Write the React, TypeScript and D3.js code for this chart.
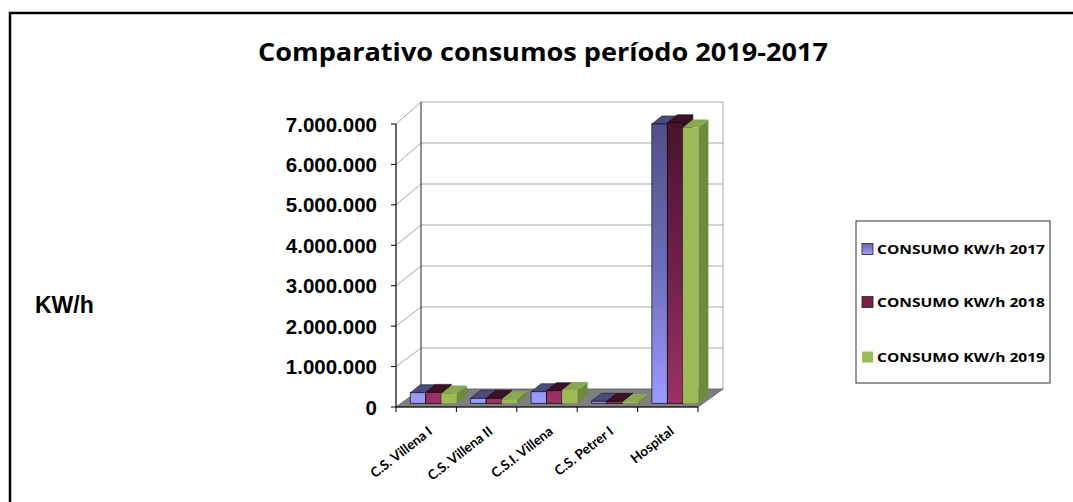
import React from "react";
import * as d3 from "d3";

const categories = ["C.S. Villena I", "C.S. Villena II", "C.S.I. Villena", "C.S. Petrer I", "Hospital"];
const seriesNames = ["CONSUMO KW/h 2017", "CONSUMO KW/h 2018", "CONSUMO KW/h 2019"];
const s2017 = [262000, 124000, 287000, 50000, 6910000];
const s2018 = [270000, 124000, 312000, 50000, 6940000];
const s2019 = [245000, 100000, 330000, 35000, 6820000];
const yTicks = [0, 1000000, 2000000, 3000000, 4000000, 5000000, 6000000, 7000000];

const W = 1073, H = 502;
const X0 = 396, X1 = 698; // front floor edge
const Y0 = 407, YTOP = 124; // front value 0 / 7M
const DEPTH_X = 25;
const VMAX = 7000000;
const BAR_SHIFT = { dx: 7.3, dy: -3.7 };
const BAR_DEPTH = { dx: 10, dy: -8 };

const fmt = (v: number) => (v === 0 ? "0" : d3.format(",")(v).replace(/,/g, "."));

export default function App() {
  const series = [s2017, s2018, s2019];
  const xCat = d3.scaleBand<string>().domain(categories).range([X0, X1]).padding(0);
  const yF = d3.scaleLinear().domain([0, VMAX]).range([Y0, YTOP]);
  const pxPerUnit = (Y0 - YTOP) / VMAX;
  const backDy = (v: number) => -(18 + 4 * (v / VMAX));
  const proj = (x: number, v: number, d: number) => [x + DEPTH_X * d, yF(v) + backDy(v) * d];

  const inner = 6.95;
  const xSer = d3.scaleBand<number>().domain([0, 1, 2]).range([0, xCat.bandwidth() - 2 * inner]).padding(0);

  const frontFill = ["url(#gBlue)", "url(#gMaroon)", "#9bbb59"];
  const topFill = ["#4b4b80", "#3e1129", "#8aa84f"];
  const sideFill = ["#3f3f70", "#35101f", "#6b8a3a"];
  const strokeC = ["#1a1a33", "#1a0510", "none"];
  const baseY = Y0 + BAR_SHIFT.dy;

  const floor = [proj(X0, 0, 0), proj(X1, 0, 0), proj(X1, 0, 1), proj(X0, 0, 1)];
  const wallTop = proj(X0, VMAX, 1);
  const wallBottom = proj(X0, 0, 1);
  const wallRightX = X1 + DEPTH_X;

  const bars: any[] = [];
  categories.forEach((c, ci) => {
    series.forEach((s, si) => {
      const v = s[ci];
      const x = (xCat(c) as number) + inner + (xSer(si) as number) + BAR_SHIFT.dx;
      const w = xSer.bandwidth();
      const h = v * pxPerUnit;
      const yt = baseY - h;
      const yb = baseY;
      const { dx, dy } = BAR_DEPTH;
      bars.push(
        <g key={`${ci}-${si}`}>
          <polygon points={`${x + w},${yb} ${x + w + dx},${yb + dy} ${x + w + dx},${yt + dy} ${x + w},${yt}`} fill={sideFill[si]} stroke={strokeC[si]} strokeWidth={0.6} />
          <polygon points={`${x},${yt} ${x + w},${yt} ${x + w + dx},${yt + dy} ${x + dx},${yt + dy}`} fill={topFill[si]} stroke={strokeC[si]} strokeWidth={0.6} />
          <rect x={x} y={yt} width={w} height={h} fill={frontFill[si]} stroke={strokeC[si]} strokeWidth={0.8} />
        </g>
      );
    });
  });

  const legendY = [249, 302, 357];
  const swatchFill = ["url(#gBlueL)", "#7a1f4a", "#9bbb59"];

  return (
    <svg width={W} height={H} style={{ position: "absolute", left: 0, top: 0, background: "#fff" }} fontFamily="Liberation Sans, Arial, sans-serif">
      <defs>
        <linearGradient id="gBlue" gradientUnits="userSpaceOnUse" x1="0" y1={YTOP} x2="0" y2={Y0}>
          <stop offset="0" stopColor="#50508a" />
          <stop offset="0.5" stopColor="#6d6dba" />
          <stop offset="1" stopColor="#9c9cff" />
        </linearGradient>
        <linearGradient id="gMaroon" gradientUnits="userSpaceOnUse" x1="0" y1={YTOP} x2="0" y2={Y0}>
          <stop offset="0" stopColor="#4a1430" />
          <stop offset="0.5" stopColor="#6e2048" />
          <stop offset="1" stopColor="#9b3366" />
        </linearGradient>
        <linearGradient id="gBlueL" x1="0" y1="0" x2="0" y2="1">
          <stop offset="0" stopColor="#6a6ab5" />
          <stop offset="1" stopColor="#9c9cff" />
        </linearGradient>
      </defs>
      {/* outer frame */}
      <path d={`M10,${H + 2} L10,13 L${W + 2},13`} fill="none" stroke="#000" strokeWidth={2.5} />

      {/* title */}
      <text x={543} y={61} textAnchor="middle" fontFamily="'Open Sans', Lato, sans-serif" fontWeight="bold" fontSize={25} textLength={570} lengthAdjust="spacingAndGlyphs">
        Comparativo consumos período 2019-2017
      </text>

      {/* back wall gridlines */}
      {yTicks.map((t) => {
        const [fx, fy] = proj(X0, t, 0);
        const [bx, by] = proj(X0, t, 1);
        return (
          <g key={t}>
            {t > 0 && <line x1={fx} y1={fy} x2={bx} y2={by} stroke="#a6a6a6" strokeWidth={1} />}
            {t > 0 && <line x1={bx} y1={by} x2={wallRightX} y2={by} stroke="#a6a6a6" strokeWidth={1} />}
          </g>
        );
      })}
      <line x1={wallRightX} y1={wallTop[1]} x2={wallRightX} y2={wallBottom[1]} stroke="#a6a6a6" strokeWidth={1} />
      <line x1={wallTop[0]} y1={wallTop[1]} x2={wallBottom[0]} y2={wallBottom[1]} stroke="#222" strokeWidth={1} />

      {/* floor */}
      <polygon points={floor.map((p) => p.join(",")).join(" ")} fill="#7f7f7f" stroke="#555" strokeWidth={0.8} />
      <line x1={X0} y1={Y0} x2={X1} y2={Y0} stroke="#000" strokeWidth={1.2} />
      {[...categories.map((c) => xCat(c) as number), X1].map((x, i) => (
        <line key={i} x1={x} y1={Y0} x2={x} y2={Y0 + 5} stroke="#000" strokeWidth={1} />
      ))}

      {/* bars */}
      {bars}

      {/* front y axis */}
      <line x1={X0} y1={YTOP} x2={X0} y2={Y0} stroke="#000" strokeWidth={1.2} />
      {yTicks.map((t) => (
        <g key={t}>
          <line x1={X0 - 5} y1={yF(t)} x2={X0} y2={yF(t)} stroke="#000" strokeWidth={1} />
          <text x={377} y={yF(t) + 7.5} textAnchor="end" fontWeight="bold" fontSize={20.5}>
            {fmt(t)}
          </text>
        </g>
      ))}

      {/* x labels */}
      {categories.map((c) => {
        const cx = (xCat(c) as number) + xCat.bandwidth() / 2;
        return (
          <text key={c} transform={`translate(${cx + 7},${433}) rotate(-38)`} textAnchor="end" fontFamily="Lato, 'Open Sans', sans-serif" fontWeight="bold" fontSize={13.5}>
            {c}
          </text>
        );
      })}

      {/* axis title */}
      <text x={35} y={313} fontWeight="bold" fontSize={23}>
        KW/h
      </text>

      {/* legend */}
      <rect x={856} y={221} width={194} height={162} fill="#fff" stroke="#333" strokeWidth={1} />
      {seriesNames.map((n, i) => (
        <g key={n}>
          <rect x={862} y={legendY[i] - 5.5} width={11} height={11} fill={swatchFill[i]} stroke={i < 2 ? "#222" : "none"} strokeWidth={0.8} />
          <text x={877} y={legendY[i] + 5} fontFamily="'Open Sans', Lato, sans-serif" fontWeight="bold" fontSize={13} textLength={168} lengthAdjust="spacingAndGlyphs">
            {n}
          </text>
        </g>
      ))}
    </svg>
  );
}
